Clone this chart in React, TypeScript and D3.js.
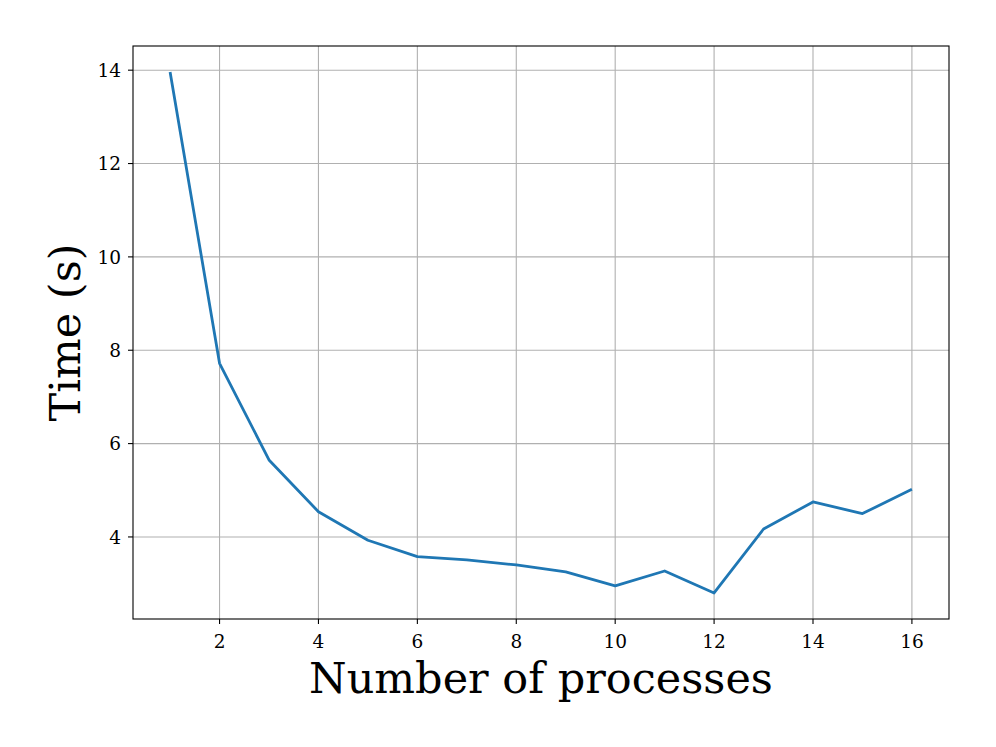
import React from 'react';
import * as d3 from 'd3';

const processes = [1, 2, 3, 4, 5, 6, 7, 8, 9, 10, 11, 12, 13, 14, 15, 16];
const times = [13.96, 7.72, 5.65, 4.54, 3.93, 3.58, 3.51, 3.4, 3.25, 2.95, 3.27, 2.8, 4.17, 4.75, 4.5, 5.02];
const xTicks = [2, 4, 6, 8, 10, 12, 14, 16];
const yTicks = [4, 6, 8, 10, 12, 14];

const W = 996;
const H = 747;
const m = { left: 133, right: 949, top: 46, bottom: 619 };
const font = "'DejaVu Serif', serif";

export default function App() {
  const x = d3.scaleLinear().domain([0.25, 16.75]).range([m.left, m.right]);
  const [lo, hi] = d3.extent(times) as [number, number];
  const pad = (hi - lo) * 0.05;
  const y = d3.scaleLinear().domain([lo - pad, hi + pad]).range([m.bottom, m.top]);

  const path = d3
    .line<number>()
    .x((d, i) => x(processes[i]))
    .y(d => y(d))(times);

  return (
    <svg width={W} height={H} style={{ position: 'absolute', left: 0, top: 0, background: '#fff' }}>
      <rect x={0} y={0} width={W} height={H} fill="#fff" />
      {/* grid */}
      {xTicks.map(t => (
        <line key={'gx' + t} x1={x(t)} x2={x(t)} y1={m.top} y2={m.bottom} stroke="#b0b0b0" strokeWidth={1.1} />
      ))}
      {yTicks.map(t => (
        <line key={'gy' + t} x1={m.left} x2={m.right} y1={y(t)} y2={y(t)} stroke="#b0b0b0" strokeWidth={1.1} />
      ))}
      <path d={path ?? ''} fill="none" stroke="#1f77b4" strokeWidth={2.8} strokeLinejoin="round" />
      <rect
        x={m.left}
        y={m.top}
        width={m.right - m.left}
        height={m.bottom - m.top}
        fill="none"
        stroke="#000"
        strokeWidth={1.1}
      />
      {/* x ticks */}
      {xTicks.map(t => (
        <g key={'xt' + t} transform={`translate(${x(t)},${m.bottom})`}>
          <line y1={0} y2={5} stroke="#000" strokeWidth={1.1} />
          <text y={29} textAnchor="middle" fontFamily={font} fontSize={18.5} fill="#000">
            {t}
          </text>
        </g>
      ))}
      {/* y ticks */}
      {yTicks.map(t => (
        <g key={'yt' + t} transform={`translate(${m.left},${y(t)})`}>
          <line x1={0} x2={-5} stroke="#000" strokeWidth={1.1} />
          <text x={-12} dy="0.36em" textAnchor="end" fontFamily={font} fontSize={18.5} fill="#000">
            {t}
          </text>
        </g>
      ))}
      <text x={(m.left + m.right) / 2} y={693} textAnchor="middle" fontFamily={font} fontSize={43} fill="#000">
        Number of processes
      </text>
      <text
        transform={`translate(80,${(m.top + m.bottom) / 2}) rotate(-90)`}
        textAnchor="middle"
        fontFamily={font}
        fontSize={43}
        fill="#000"
      >
        Time (s)
      </text>
    </svg>
  );
}
